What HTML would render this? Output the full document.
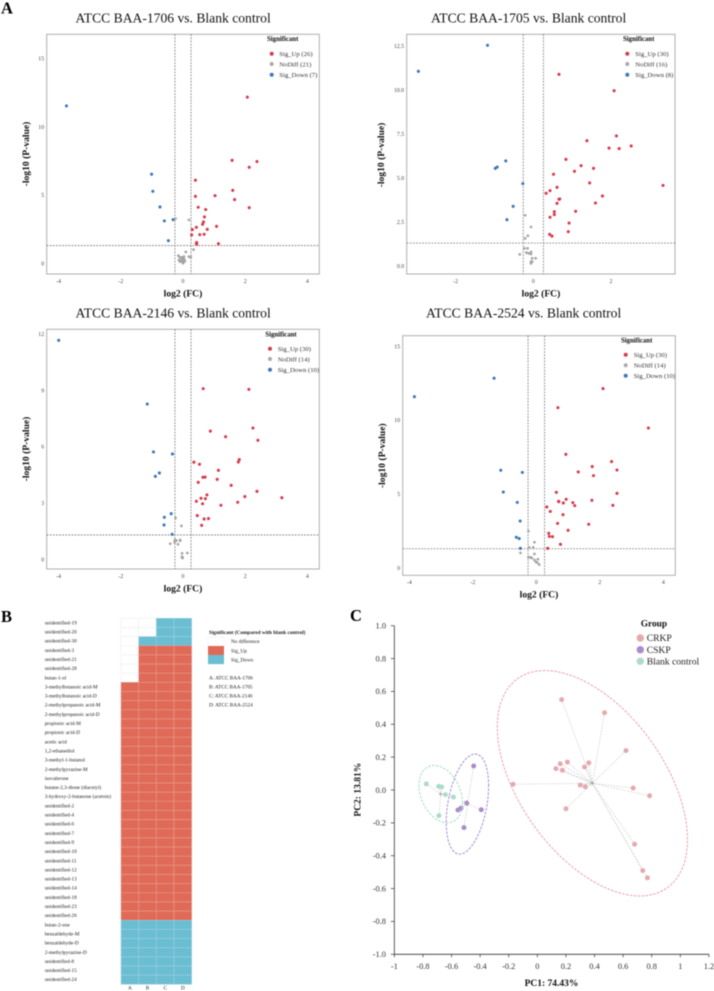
<!DOCTYPE html>
<html lang="en">
<head>
<meta charset="utf-8">
<title>Volcano plots, heatmap and PCA</title>
<style>
html,body{margin:0;padding:0;background:#fff;width:714px;height:991px;overflow:hidden}
svg{display:block;filter:blur(0.4px)}
text{font-family:"Liberation Serif",serif}
.pl{font-weight:bold;font-size:16.5px;fill:#000}
.ttl{font-size:13.6px;fill:#111}
.axl{font-weight:bold;font-size:9.6px;fill:#111}
.lgt{font-weight:bold;font-size:6.8px;fill:#111}
.lgi{font-size:6.7px;fill:#333}
.hmt{font-size:5.2px;fill:#222}
.pct{font-size:9.6px;fill:#222}
</style>
</head>
<body>
<svg id="root" xmlns="http://www.w3.org/2000/svg" width="714" height="991" viewBox="0 0 714 991">
<text class="pl" x="1" y="13.5">A</text>
<text class="pl" x="1" y="622">B</text>
<text class="pl" x="350" y="621">C</text>

<text class="ttl" x="75.5" y="22.7">ATCC BAA-1706 vs. Blank control</text>
<text class="ttl" x="431" y="22.7">ATCC BAA-1705 vs. Blank control</text>
<text class="ttl" x="75.5" y="317.7">ATCC BAA-2146 vs. Blank control</text>
<text class="ttl" x="426" y="317.7">ATCC BAA-2524 vs. Blank control</text>

<text class="axl" x="183" y="296.7" text-anchor="middle">log2 (FC)</text>
<text class="axl" x="541" y="296.7" text-anchor="middle">log2 (FC)</text>
<text class="axl" x="183" y="591.7" text-anchor="middle">log2 (FC)</text>
<text class="axl" x="539" y="597.7" text-anchor="middle">log2 (FC)</text>
<text class="axl" transform="translate(29,154) rotate(-90)" text-anchor="middle">-log10 (P-value)</text>
<text class="axl" transform="translate(384,155) rotate(-90)" text-anchor="middle">-log10 (P-value)</text>
<text class="axl" transform="translate(29,449) rotate(-90)" text-anchor="middle">-log10 (P-value)</text>
<text class="axl" transform="translate(385,455.7) rotate(-90)" text-anchor="middle">-log10 (P-value)</text>

<g>
<text class="lgt" x="267" y="41">Significant</text>
<circle cx="271.7" cy="53.7" r="2" fill="#d8394c"/><text class="lgi" x="279.3" y="56">Sig_Up (26)</text>
<circle cx="271.7" cy="64" r="2" fill="#a9a9a9"/><text class="lgi" x="279.3" y="66.3">NoDiff (21)</text>
<circle cx="271.7" cy="74.7" r="2" fill="#3c78b8"/><text class="lgi" x="279.3" y="77">Sig_Down (7)</text>
</g>
<g>
<text class="lgt" x="623" y="41">Significant</text>
<circle cx="627.3" cy="53.7" r="2" fill="#d8394c"/><text class="lgi" x="635.3" y="56">Sig_Up (30)</text>
<circle cx="627.3" cy="64" r="2" fill="#a9a9a9"/><text class="lgi" x="635.3" y="66.3">NoDiff (16)</text>
<circle cx="627.3" cy="74.7" r="2" fill="#3c78b8"/><text class="lgi" x="635.3" y="77">Sig_Down (8)</text>
</g>
<g>
<text class="lgt" x="265.3" y="336.7">Significant</text>
<circle cx="270" cy="348.7" r="2" fill="#d8394c"/><text class="lgi" x="277.7" y="351">Sig_Up (30)</text>
<circle cx="270" cy="359" r="2" fill="#a9a9a9"/><text class="lgi" x="277.7" y="361.3">NoDiff (14)</text>
<circle cx="270" cy="369.7" r="2" fill="#3c78b8"/><text class="lgi" x="277.7" y="372">Sig_Down (10)</text>
</g>
<g>
<text class="lgt" x="621" y="342.7">Significant</text>
<circle cx="625.7" cy="354.7" r="2" fill="#d8394c"/><text class="lgi" x="633.7" y="357">Sig_Up (30)</text>
<circle cx="625.7" cy="365.3" r="2" fill="#a9a9a9"/><text class="lgi" x="633.7" y="367.6">NoDiff (14)</text>
<circle cx="625.7" cy="375.7" r="2" fill="#3c78b8"/><text class="lgi" x="633.7" y="378">Sig_Down (10)</text>
</g>

<g>
<text class="hmt" x="209" y="634.2" font-weight="bold" style="font-size:5.3px">Significant (Compared with blank control)</text>
<rect x="208" y="637" width="16" height="9.1" fill="#fff" stroke="#eee" stroke-width="0.5"/>
<rect x="208" y="646" width="16" height="9.1" fill="#e06a58"/>
<rect x="208" y="655" width="16" height="9.1" fill="#6bbdd2"/>
<text class="hmt" x="231" y="643.2">No difference</text>
<text class="hmt" x="231" y="652.4">Sig_Up</text>
<text class="hmt" x="231" y="661.4">Sig_Down</text>
<text class="hmt" x="209" y="679.7">A: ATCC BAA-1706</text>
<text class="hmt" x="209" y="688.7">B: ATCC BAA-1705</text>
<text class="hmt" x="209" y="697.7">C: ATCC BAA-2146</text>
<text class="hmt" x="209" y="706.7">D: ATCC BAA-2524</text>
</g>

<g>
<text x="640.7" y="626.7" font-weight="bold" font-size="9.4" fill="#111">Group</text>
<circle cx="640.3" cy="638" r="3.7" fill="#e5a9b0"/><text class="pct" x="646.7" y="641.2">CRKP</text>
<circle cx="640.3" cy="649.7" r="3.7" fill="#a98ccb"/><text class="pct" x="646.7" y="652.9">CSKP</text>
<circle cx="640.3" cy="661.3" r="3.7" fill="#abdccb"/><text class="pct" x="646.7" y="664.5">Blank control</text>
</g>
<text class="axl" x="551.5" y="986" text-anchor="middle" style="font-size:9.5px">PC1: 74.43%</text>
<text class="axl" transform="translate(360.5,789.7) rotate(-90)" text-anchor="middle" style="font-size:9.5px">PC2: 13.81%</text>
</svg>
<script>
// ---------- Volcano data: [log2FC, -log10 P] ----------
var volcano1Up = [[2.07,12.18],[1.58,7.55],[2.38,7.46],[2.13,7.04],[0.40,6.09],[0.40,4.91],[1.03,4.96],[1.60,5.35],[1.66,4.67],[2.13,4.08],[0.49,4.11],[0.73,3.94],[0.69,3.40],[0.66,3.03],[0.63,2.86],[1.08,2.71],[0.43,2.64],[0.30,2.47],[0.78,2.49],[0.28,2.08],[0.54,2.10],[0.68,2.13],[1.14,1.44],[0.44,1.52],[0.43,1.47],[0.44,1.39]];
var volcano1None = [[-0.24,3.28],[0.19,3.18],[0.34,1.0],[0.09,0.83],[-0.15,0.56],[-0.10,0.44],[0.01,0.44],[-0.04,0.37],[-0.13,0.24],[-0.08,0.20],[-0.02,0.12],[0.01,0.05],[0.03,0.49],[0.19,0.49],[0.25,0.44],[-0.01,0.24],[0.04,0.29],[-0.10,0.12],[0,0],[0.06,0.15],[-0.04,0.44]];
var volcano1Down = [[-3.75,11.54],[-1.01,6.53],[-0.97,5.28],[-0.74,4.13],[-0.60,3.11],[-0.32,3.20],[-0.47,1.66]];

var volcano2Up = [[0.66,10.89],[2.08,9.96],[2.14,7.39],[1.38,7.12],[1.95,6.70],[2.21,6.67],[2.52,6.82],[0.84,6.06],[1.23,5.70],[1.55,5.55],[1.06,5.38],[0.52,5.21],[1.45,4.72],[0.61,4.47],[0.43,4.28],[0.33,4.13],[3.34,4.58],[1.78,3.98],[0.66,3.79],[0.68,3.81],[0.61,3.56],[1.60,3.58],[1.09,3.11],[0.54,3.09],[0.54,2.92],[0.43,2.77],[0.92,2.44],[0.90,1.95],[0.42,1.80],[0.48,1.70]];
var volcano2None = [[-0.21,2.88],[-0.06,2.22],[-0.14,1.72],[-0.21,1.57],[-0.23,1.0],[-0.15,1.0],[-0.18,0.76],[-0.12,0.72],[-0.06,0.80],[-0.06,0.68],[-0.35,0.66],[0.06,0.44],[-0.03,0.44],[-0.06,0.25],[-0.03,0.25],[-0.06,0.15]];
var volcano2Down = [[-2.96,11.06],[-1.18,12.54],[-0.71,5.97],[-0.93,5.62],[-0.98,5.55],[-0.27,4.68],[-0.52,3.39],[-0.68,2.63]];

var volcano3Up = [[0.65,9.09],[2.12,9.05],[2.25,6.99],[0.88,6.83],[1.37,6.53],[2.41,6.34],[0.35,5.17],[0.53,5.06],[1.81,5.31],[1.78,5.18],[1.14,4.74],[0.64,4.37],[0.71,4.38],[1.10,4.26],[0.49,4.10],[1.55,3.94],[2.38,3.62],[0.77,3.43],[3.18,3.28],[1.99,3.34],[0.58,3.25],[0.72,3.23],[0.43,3.09],[1.76,3.04],[0.63,2.96],[1.22,2.88],[0.46,2.33],[0.68,2.15],[0.82,2.17],[0.60,1.81]];
var volcano3None = [[-0.24,2.20],[-0.05,1.78],[-0.09,1.03],[-0.21,1.0],[-0.27,0.91],[-0.41,0.83],[-0.16,0.80],[-0.09,0.99],[-0.26,1.03],[-0.03,0.32],[0.14,0.34],[-0.03,0.14],[-0.01,0.07],[-0.03,0.09]];
var volcano3Down = [[-4.0,11.66],[-1.15,8.27],[-0.95,5.72],[-0.34,5.61],[-0.76,4.60],[-0.89,4.42],[-0.38,2.43],[-0.60,2.24],[-0.61,1.83],[-0.35,1.33]];

var volcano4Up = [[2.10,12.14],[0.68,10.85],[3.53,9.47],[0.93,7.69],[2.37,7.20],[1.76,6.86],[2.54,6.63],[1.32,6.50],[1.80,6.25],[0.63,5.12],[2.54,5.05],[0.94,4.65],[1.75,4.58],[0.70,4.51],[0.71,4.49],[0.85,4.40],[1.15,4.42],[1.21,4.22],[2.41,4.24],[0.33,4.13],[0.44,3.83],[0.84,3.61],[0.67,3.02],[1.65,2.96],[1.0,2.55],[0.39,2.35],[0.41,2.14],[0.51,2.12],[0.76,1.60],[0.36,1.33]];
var volcano4None = [[-0.25,2.48],[-0.06,1.74],[-0.23,1.40],[-0.10,1.40],[-0.50,1.02],[-0.06,0.95],[-0.25,0.74],[-0.19,0.72],[-0.14,0.68],[-0.06,0.54],[0.05,0.59],[-0.01,0.41],[0.03,0.36],[0.09,0.23]];
var volcano4Down = [[-3.84,11.59],[-1.33,12.84],[-1.12,6.61],[-0.44,6.47],[-1.04,5.14],[-0.60,4.44],[-0.51,3.18],[-0.63,2.08],[-0.54,1.99],[-0.50,1.33]];

var volcano1XTicks = [-4,-2,0,2,4];
var volcano1YTicks = [0,5,10,15];
var volcano2XTicks = [-2,0,2];
var volcano2YTicks = ["0.0","2.5","5.0","7.5","10.0","12.5"];
var volcano3XTicks = [-4,-2,0,2,4];
var volcano3YTicks = [0,3,6,9,12];
var volcano4XTicks = [-4,-2,0,2,4];
var volcano4YTicks = [0,5,10,15];

var foldChangeCutoff = [-0.26, 0.26];
var pValueCutoff = [1.3];

// ---------- Heatmap data ----------
var heatmapColumns = ["A","B","C","D"];
var heatmapRows = ["unidentified-19","unidentified-20","unidentified-30","unidentified-3","unidentified-21","unidentified-28","butan-1-ol","3-methylbutanoic acid-M","3-methylbutanoic acid-D","2-methylpropanoic acid-M","2-methylpropanoic acid-D","propionic acid-M","propionic acid-D","acetic acid","1,2-ethanediol","3-methyl-1-butanol","2-methylpyrazine-M","isovalerone","butane-2,3-dione (diacetyl)","3-hydroxy-2-butanone (acetoin)","unidentified-2","unidentified-4","unidentified-6","unidentified-7","unidentified-9","unidentified-10","unidentified-11","unidentified-12","unidentified-13","unidentified-14","unidentified-18","unidentified-23","unidentified-26","butan-2-one","benzaldehyde-M","benzaldehyde-D","2-methylpyrazine-D","unidentified-8","unidentified-15","unidentified-24"];
var heatmapA = [0,0,0,0,0,0,0,1,1,1,1,1,1,1,1,1,1,1,1,1,1,1,1,1,1,1,1,1,1,1,1,1,1,-1,-1,-1,-1,-1,-1,-1];
var heatmapB = [0,0,-1,1,1,1,1,1,1,1,1,1,1,1,1,1,1,1,1,1,1,1,1,1,1,1,1,1,1,1,1,1,1,-1,-1,-1,-1,-1,-1,-1];
var heatmapC = [-1,-1,-1,1,1,1,1,1,1,1,1,1,1,1,1,1,1,1,1,1,1,1,1,1,1,1,1,1,1,1,1,1,1,-1,-1,-1,-1,-1,-1,-1];
var heatmapD = [-1,-1,-1,1,1,1,1,1,1,1,1,1,1,1,1,1,1,1,1,1,1,1,1,1,1,1,1,1,1,1,1,1,1,-1,-1,-1,-1,-1,-1,-1];

// ---------- PCA data: [PC1, PC2] ----------
var pcaCRKP = [[0.17,0.55],[0.47,0.47],[0.62,0.24],[0.13,0.13],[0.16,0.16],[0.21,0.17],[0.175,0.12],[0.33,0.14],[0.36,0.165],[-0.17,0.035],[0.30,0.03],[0.335,0.02],[0.67,0.012],[0.785,-0.035],[0.20,-0.114],[0.68,-0.33],[0.737,-0.49],[0.77,-0.535]];
var pcaCSKP = [[-0.445,0.146],[-0.494,-0.079],[-0.392,-0.12],[-0.555,-0.122],[-0.534,-0.11],[-0.513,-0.229]];
var pcaBlank = [[-0.776,0.037],[-0.69,0.022],[-0.669,0.018],[-0.643,-0.028],[-0.587,-0.043],[-0.688,-0.156]];
var pcaXTicks = [-1,-0.8,-0.6,-0.4,-0.2,0,0.2,0.4,0.6,0.8,1,1.2];
var pcaYTicks = [-1,-0.8,-0.6,-0.4,-0.2,0,0.2,0.4,0.6,0.8,1];

// ---------- Drawing ----------
var NS = 'http://www.w3.org/2000/svg';
var root = document.getElementById('root');
function mk(tag, attrs, parent, txt) {
  var e = document.createElementNS(NS, tag);
  for (var k in attrs) e.setAttribute(k, attrs[k]);
  if (txt !== undefined) e.textContent = txt;
  (parent || root).appendChild(e);
  return e;
}

function drawVolcano(id, box, up, none, down, xTicks, yTicks) {
  var sx = function (v) { return box.x0 + box.kx * v; };
  var sy = function (v) { return box.y0 - box.ky * v; };
  var g = mk('g', {});
  
  

  var frame = mk('rect', {x: box.l, y: box.t, width: box.r - box.l, height: box.b - box.t, fill: 'none', stroke: '#aeaeae', 'stroke-width': 1}, g);
  
  

  foldChangeCutoff.forEach(function (c) {
    var l = mk('line', {x1: sx(c), x2: sx(c), y1: box.t, y2: box.b, stroke: '#777', 'stroke-width': 0.8, 'stroke-dasharray': '1.8 1.3'}, g);
    
    
  });
  pValueCutoff.forEach(function (c) {
    var l = mk('line', {x1: box.l, x2: box.r, y1: sy(c), y2: sy(c), stroke: '#777', 'stroke-width': 0.8, 'stroke-dasharray': '1.8 1.3'}, g);
    
    
  });

  xTicks.forEach(function (t) {
    var e = mk('text', {x: sx(t), y: box.b + 8.8, 'text-anchor': 'middle', 'font-size': 5.8, fill: '#444'}, g, String(t));
    
    
  });
  yTicks.forEach(function (t) {
    var e = mk('text', {x: box.l - 2.6, y: sy(parseFloat(t)) + 2, 'text-anchor': 'end', 'font-size': 5.8, fill: '#444'}, g, String(t));
    
    
  });

  none.forEach(function (p) {
    var c = mk('circle', {cx: sx(p[0]), cy: sy(p[1]), r: 1.35, fill: '#a4a4a4'}, g);
    
    
  });
  up.forEach(function (p) {
    var c = mk('circle', {cx: sx(p[0]), cy: sy(p[1]), r: 1.55, fill: '#d8394c'}, g);
    
    
  });
  down.forEach(function (p) {
    var c = mk('circle', {cx: sx(p[0]), cy: sy(p[1]), r: 1.55, fill: '#3c78b8'}, g);
    
    
  });
}

drawVolcano(1, {l: 46.7, r: 319.3, t: 34.3, b: 274, x0: 183, kx: 31.08, y0: 263.3, ky: 13.64}, volcano1Up, volcano1None, volcano1Down, volcano1XTicks, volcano1YTicks);
drawVolcano(2, {l: 406.7, r: 675, t: 34.3, b: 274, x0: 533.33, kx: 38.83, y0: 266, ky: 17.6}, volcano2Up, volcano2None, volcano2Down, volcano2XTicks, volcano2YTicks);
drawVolcano(3, {l: 46.7, r: 319.3, t: 329.3, b: 569, x0: 183, kx: 31.08, y0: 559.33, ky: 18.78}, volcano3Up, volcano3None, volcano3Down, volcano3XTicks, volcano3YTicks);
drawVolcano(4, {l: 402.7, r: 675.3, t: 335.7, b: 575.3, x0: 536.33, kx: 31.75, y0: 568, ky: 14.78}, volcano4Up, volcano4None, volcano4Down, volcano4XTicks, volcano4YTicks);

// Heatmap
(function () {
  var left = 121, top = 618.3, cw = 17.67, ch = 9.15;
  var cols = [heatmapA, heatmapB, heatmapC, heatmapD];
  var fill = {'0': '#ffffff', '1': '#e06a58', '-1': '#6bbdd2'};
  var line = {'0': '#ececec', '1': '#e8a397', '-1': '#a0d3e1'};
  var g = mk('g', {});
  
  
  heatmapRows.forEach(function (name, i) {
    var t = mk('text', {x: 44.7, y: top + ch * (i + 0.5) + 1.5, 'class': 'hmt'}, g, name);
    
    
    cols.forEach(function (col, j) {
      var v = String(col[i]);
      var r = mk('rect', {x: left + cw * j, y: top + ch * i, width: cw, height: ch, fill: fill[v], stroke: line[v], 'stroke-width': 0.5}, g);
      
      
    });
  });
  heatmapColumns.forEach(function (name, j) {
    var t = mk('text', {x: left + cw * (j + 0.5), y: 989.5, 'text-anchor': 'middle', 'class': 'hmt'}, g, name);
    
    
  });
})();

// PCA
(function () {
  var sx = function (v) { return 537.33 + 143 * v; };
  var sy = function (v) { return 790 - 164.3 * v; };
  var g = mk('g', {});
  
  

  var ax = mk('line', {x1: sx(-1), x2: sx(1.2), y1: sy(-1), y2: sy(-1), stroke: '#333', 'stroke-width': 0.8}, g);
  
  
  var ay = mk('line', {x1: sx(-1), x2: sx(-1), y1: sy(-1), y2: sy(1), stroke: '#333', 'stroke-width': 0.8}, g);
  
  

  pcaXTicks.forEach(function (t) {
    var m = mk('line', {x1: sx(t), x2: sx(t), y1: sy(-1), y2: sy(-1) + 3, stroke: '#333', 'stroke-width': 0.7}, g);
    
    
    var e = mk('text', {x: sx(t), y: 969, 'text-anchor': 'middle', 'font-size': 8.4, fill: '#333'}, g, String(t));
    
    
  });
  pcaYTicks.forEach(function (t) {
    var m = mk('line', {x1: sx(-1) - 3.5, x2: sx(-1), y1: sy(t), y2: sy(t), stroke: '#333', 'stroke-width': 0.7}, g);
    
    
    var e = mk('text', {x: 386, y: sy(t) + 2.8, 'text-anchor': 'end', 'font-size': 8.4, fill: '#333'}, g, t.toFixed(1));
    
    
  });

  function group(name, pts, color, edge) {
    var n = pts.length, mx = 0, my = 0, sxx = 0, syy = 0, sxy = 0;
    pts.forEach(function (p) { mx += p[0] / n; my += p[1] / n; });
    pts.forEach(function (p) {
      sxx += (p[0] - mx) * (p[0] - mx) / (n - 1);
      syy += (p[1] - my) * (p[1] - my) / (n - 1);
      sxy += (p[0] - mx) * (p[1] - my) / (n - 1);
    });
    var k = 2.448, ax = k * Math.sqrt(sxx), ay = k * Math.sqrt(syy), rho = sxy / Math.sqrt(sxx * syy);
    var d = '';
    for (var i = 0; i <= 120; i++) {
      var a = i / 120 * 2 * Math.PI;
      var ex = mx + ax * Math.cos(a);
      var ey = my + ay * (rho * Math.cos(a) + Math.sqrt(1 - rho * rho) * Math.sin(a));
      d += (i ? 'L' : 'M') + sx(ex).toFixed(2) + ' ' + sy(ey).toFixed(2);
    }
    var el = mk('path', {d: d + 'Z', fill: 'none', stroke: edge, 'stroke-width': 1, 'stroke-dasharray': '2.6 1.3'}, g);
    
    

    pts.forEach(function (p) {
      var s = mk('line', {x1: sx(p[0]), y1: sy(p[1]), x2: sx(mx), y2: sy(my), stroke: '#c6c6c6', 'stroke-width': 0.6, 'stroke-dasharray': '1.8 1.2'}, g);
      
      
    });
    pts.forEach(function (p) {
      var c = mk('circle', {cx: sx(p[0]), cy: sy(p[1]), r: 2.5, fill: color}, g);
      
      
    });
    var cs = mk('path', {d: 'M' + (sx(mx) - 2) + ' ' + sy(my) + 'h4M' + sx(mx) + ' ' + (sy(my) - 2) + 'v4', stroke: '#999', 'stroke-width': 0.7, fill: 'none'}, g);
    
    
  }
  group('crkp', pcaCRKP, '#e5a9b0', '#e9a0ae');
  group('cskp', pcaCSKP, '#a98ccb', '#a58bd0');
  group('blank-control', pcaBlank, '#abdccb', '#a8dcc8');
})();
</script>
</body>
</html>
